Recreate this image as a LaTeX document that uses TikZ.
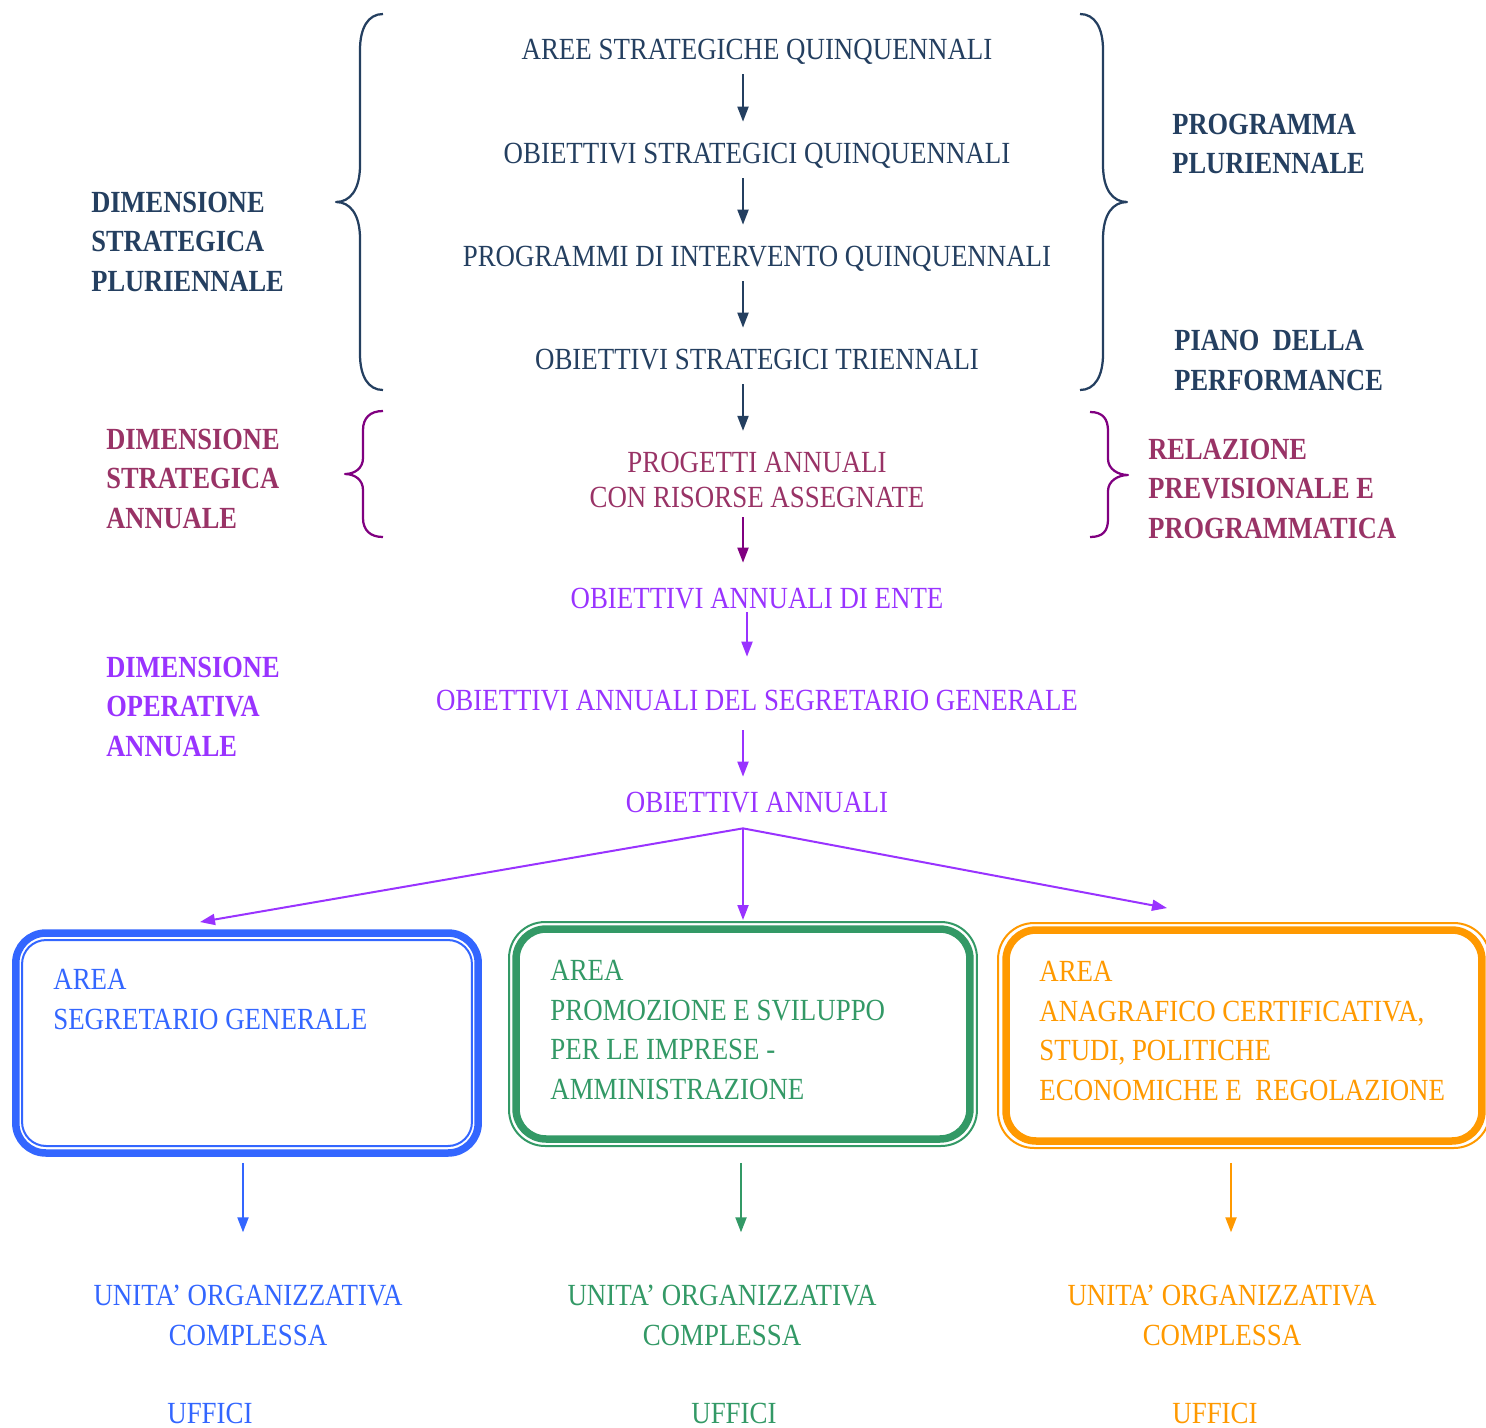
\documentclass[tikz,border=0pt]{standalone}
\usepackage{fontspec}
\setmainfont{Liberation Serif}[FakeStretch=0.875, BoldFeatures={FakeStretch=0.86}]
\usetikzlibrary{arrows.meta,calc}

\definecolor{cNavy}{HTML}{243F60}
\definecolor{cPlum}{HTML}{993366}
\definecolor{cBrace}{HTML}{800080}
\definecolor{cViolet}{HTML}{9933FF}
\definecolor{cBlue}{HTML}{3366FF}
\definecolor{cGreen}{HTML}{339966}
\definecolor{cOrange}{HTML}{FF9900}

\begin{document}
\begin{tikzpicture}[x=0.02cm, y=-0.02cm,
    line/.style={inner sep=0pt, font=\fontsize{17.5}{22.5}\selectfont, text height=0.4cm, text depth=0pt},
    block/.style={inner sep=0pt, align=left, font=\fontsize{17.5}{22.4}\selectfont},
    lbl/.style={inner sep=0pt, align=left, anchor=west, font=\bfseries\fontsize{17.5}{22.5}\selectfont},
    unit/.style={inner sep=0pt, align=center, font=\fontsize{17.5}{22.7}\selectfont},
    arr/.style={-{Triangle[length=0.3cm,width=0.22cm]}, line width=0.04cm, shorten <=0.3cm, shorten >=0.42cm},
    brace/.style={line width=0.045cm, line join=round},
    thickbox/.style={rectangle, outer sep=0pt, line width=0.15cm, rounded corners=0.6cm},
    thinbox/.style={rectangle, outer sep=0pt, line width=0.04cm}]
    \useasboundingbox (0,0) rectangle (1486,1427);
    \coordinate (ax) at (743,0);

    % main column
    \node[line, text=cNavy] (aree) at (757,49) {AREE STRATEGICHE QUINQUENNALI};
    \node[line, text=cNavy] (obsq) at (757,153) {OBIETTIVI STRATEGICI QUINQUENNALI};
    \node[line, text=cNavy] (prog) at (757,256) {PROGRAMMI DI INTERVENTO QUINQUENNALI};
    \node[line, text=cNavy] (obst) at (757,359) {OBIETTIVI STRATEGICI TRIENNALI};
    \node[block, align=center, text=cPlum, font=\fontsize{17.5}{19.9}\selectfont] (proj) at (757,480) {PROGETTI ANNUALI\\CON RISORSE ASSEGNATE};
    \node[line, text=cViolet] (obente) at (757,598) {OBIETTIVI ANNUALI DI ENTE};
    \node[line, text=cViolet] (obsg) at (757,700) {OBIETTIVI ANNUALI DEL SEGRETARIO GENERALE};
    \node[line, text=cViolet] (oban) at (757,802) {OBIETTIVI ANNUALI};
    \coordinate (fork) at ($(oban.south -| ax)+(0,16)$);

    \draw[arr, cNavy] (aree.south -| ax) -- (obsq.north -| ax);
    \draw[arr, cNavy] (obsq.south -| ax) -- (prog.north -| ax);
    \draw[arr, cNavy] (prog.south -| ax) -- (obst.north -| ax);
    \draw[arr, cNavy] (obst.south -| ax) -- (proj.north -| ax);
    \draw[arr, cBrace, shorten <=0.18cm, shorten >=0.5cm] (proj.south -| ax) -- (obente.north -| ax);
    \draw[arr, cViolet, transform canvas={xshift=0.08cm}, shorten <=0.08cm, shorten >=0.66cm] (obente.south -| ax) -- (obsg.north -| ax);
    \draw[arr, cViolet, shorten <=0.4cm, shorten >=0.3cm] (obsg.south -| ax) -- (oban.north -| ax);

    % labels
    \node[lbl, text=cNavy] (dsp) at (91,241.5) {DIMENSIONE\\STRATEGICA\\PLURIENNALE};
    \node[lbl, text=cPlum] (dsa) at (106,478.5) {DIMENSIONE\\STRATEGICA\\ANNUALE};
    \node[lbl, text=cViolet] (doa) at (106,706.5) {DIMENSIONE\\OPERATIVA\\ANNUALE};
    \node[lbl, text=cNavy] (pp) at (1172,144) {PROGRAMMA\\PLURIENNALE};
    \node[lbl, text=cNavy] (pdp) at (1174,360.5) {PIANO \ DELLA\\PERFORMANCE};
    \node[lbl, text=cPlum] (rpp) at (1148,488.5) {RELAZIONE\\PREVISIONALE E\\PROGRAMMATICA};

    % braces
    \draw[brace, cNavy] (383,14) .. controls (368,14) and (360,28) .. (360,50) -- (360,165) .. controls (360,190) and (350,202) .. (336,202) .. controls (350,202) and (360,214) .. (360,239) -- (360,354) .. controls (360,376) and (368,390) .. (383,390);
    \draw[brace, cNavy] (1080,14) .. controls (1095,14) and (1103,28) .. (1103,50) -- (1103,165) .. controls (1103,190) and (1113,202) .. (1127,202) .. controls (1113,202) and (1103,214) .. (1103,239) -- (1103,354) .. controls (1103,376) and (1095,390) .. (1080,390);
    \draw[brace, cBrace] (383,411) .. controls (370,411) and (363,418) .. (363,430) -- (363,458) .. controls (363,468) and (355,474) .. (345,474) .. controls (355,474) and (363,480) .. (363,490) -- (363,518) .. controls (363,530) and (370,537) .. (383,537);
    \draw[brace, cBrace] (1090,412) .. controls (1103,412) and (1108,419) .. (1108,431) -- (1108,459) .. controls (1108,469) and (1118,475) .. (1128,475) .. controls (1118,475) and (1108,481) .. (1108,491) -- (1108,519) .. controls (1108,531) and (1103,537) .. (1090,537);

    % areas
    \node[thickbox, draw=cBlue, minimum width=9.25cm, minimum height=4.4cm] (blue) at (247,1043) {};
    \node[thinbox, draw=cBlue, rounded corners=0.48cm, minimum width=9cm, minimum height=4.12cm] (blueline) at (blue) {};
    \node[thickbox, draw=cGreen, minimum width=9.08cm, minimum height=4.2cm] (green) at (743,1034) {};
    \node[thinbox, draw=cGreen, rounded corners=0.72cm, minimum width=9.36cm, minimum height=4.48cm] (greenline) at (green) {};
    \node[thickbox, draw=cOrange, minimum width=9.52cm, minimum height=4.22cm] (orange) at (1244,1035.5) {};
    \node[thinbox, draw=cOrange, rounded corners=0.72cm, minimum width=9.84cm, minimum height=4.5cm] (orangeline) at (orange) {};

    \node[block, anchor=west, text=cBlue] (bluetxt) at (53,999.5) {AREA\\SEGRETARIO GENERALE};
    \node[block, anchor=west, text=cGreen] (greentxt) at (550,1030) {AREA\\PROMOZIONE E SVILUPPO\\PER LE IMPRESE -\\AMMINISTRAZIONE};
    \node[block, anchor=west, text=cOrange] (orangetxt) at (1039,1031) {AREA\\ANAGRAFICO CERTIFICATIVA,\\STUDI, POLITICHE\\ECONOMICHE E \ REGOLAZIONE};

    \draw[arr, cViolet, shorten <=0, shorten >=0] (fork) -- ($(blue.north)+(-47,-11)$);
    \draw[arr, cViolet, shorten <=0, shorten >=0] (fork) -- ($(green.north)+(0,-9)$);
    \draw[arr, cViolet, shorten <=0, shorten >=0] (fork) -- ($(orange.north)+(-77,-22)$);

    % units
    \node[unit, text=cBlue] (bunit) at (248,1315) {UNITA' ORGANIZZATIVA\\COMPLESSA};
    \node[unit, text=cGreen] (gunit) at (722,1315) {UNITA' ORGANIZZATIVA\\COMPLESSA};
    \node[unit, text=cOrange] (ounit) at (1222,1315) {UNITA' ORGANIZZATIVA\\COMPLESSA};
    \node[line, anchor=west, text=cBlue] (buff) at (167,1413) {UFFICI};
    \node[line, anchor=west, text=cGreen] (guff) at (691,1413) {UFFICI};
    \node[line, anchor=west, text=cOrange] (ouff) at (1172,1413) {UFFICI};

    \draw[arr, cBlue, transform canvas={xshift=-0.08cm}, shorten <=0.2cm, shorten >=1.04cm] (blue.south) -- (blue.south |- bunit.north);
    \draw[arr, cGreen, transform canvas={xshift=-0.04cm}, shorten <=0.48cm, shorten >=1.04cm] (green.south) -- (green.south |- gunit.north);
    \draw[arr, cOrange, transform canvas={xshift=-0.26cm}, shorten <=0.44cm, shorten >=1.04cm] (orange.south) -- (orange.south |- ounit.north);
\end{tikzpicture}
\end{document}
